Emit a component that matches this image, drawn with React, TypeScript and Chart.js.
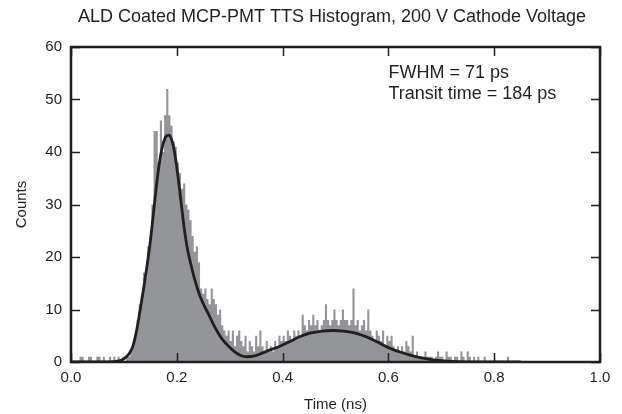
import React, { useEffect, useRef } from "react";
import { Chart, registerables } from "chart.js";

Chart.register(...registerables);

// ---- data ----
const BIN_WIDTH = 0.004; // ns per histogram bin
// histogram counts, bins starting at 0.000 ns (10 bins per row = 0.04 ns)
const histCounts = [
  0, 0, 0, 0, 1, 1, 0, 0, 1, 1, // 0.00-0.04
  0, 0, 1, 1, 0, 1, 0, 0, 1, 0, // 0.04-0.08
  1, 0, 1, 0, 1, 0, 1, 1, 2, 3, // 0.08-0.12
  5, 8, 11, 13, 17, 16, 22, 24, 30, 44, // 0.12-0.16
  44, 38, 46, 40, 47, 52, 47, 45, 42, 41, // 0.16-0.20
  38, 36, 33, 34, 30, 29, 27, 24, 21, 22, // 0.20-0.24
  19, 14, 13, 14, 12, 11, 14, 12, 11, 9, // 0.24-0.28
  10, 7, 6, 5, 6, 4, 6, 3, 5, 6, // 0.28-0.32
  4, 3, 5, 2, 4, 3, 2, 5, 3, 6, // 0.32-0.36
  3, 2, 4, 2, 3, 2, 4, 3, 5, 4, // 0.36-0.40
  5, 4, 6, 5, 4, 6, 5, 6, 5, 9, // 0.40-0.44
  7, 6, 8, 7, 9, 7, 8, 6, 7, 8, // 0.44-0.48
  11, 8, 7, 8, 10, 8, 7, 8, 10, 8, // 0.48-0.52
  8, 7, 8, 14, 7, 8, 6, 7, 8, 6, // 0.52-0.56
  10, 6, 5, 4, 6, 5, 4, 6, 3, 5, // 0.56-0.60
  4, 5, 3, 2, 3, 2, 3, 2, 4, 3, // 0.60-0.64
  2, 5, 1, 2, 1, 1, 1, 2, 1, 1, // 0.64-0.68
  1, 0, 1, 2, 1, 1, 0, 2, 1, 1, // 0.68-0.72
  0, 1, 1, 0, 2, 1, 0, 2, 1, 0, // 0.72-0.76
  1, 0, 1, 0, 0, 1, 0, 0, 0, 0, // 0.76-0.80
  0, 0, 0, 0, 0, 0, 1, 0, 0, 0, // 0.80-0.84
];

// fitted curve
const fitTimes = [
  0.0, 0.06, 0.08, 0.09, 0.1, 0.11, 0.117, 0.125, 0.13, 0.137, 0.143, 0.15, 0.156,
  0.162, 0.168, 0.174, 0.18, 0.185, 0.19, 0.196, 0.202, 0.208, 0.214, 0.22, 0.228,
  0.236, 0.244, 0.252, 0.26, 0.268, 0.276, 0.284, 0.294, 0.304, 0.313, 0.322, 0.332,
  0.345, 0.357, 0.376, 0.395, 0.414, 0.432, 0.452, 0.475, 0.496, 0.515, 0.534, 0.55,
  0.565, 0.585, 0.603, 0.622, 0.641, 0.66, 0.679, 0.7, 0.72, 0.75, 0.8, 0.85,
];
const fitCounts = [
  0, 0, 0.05, 0.2, 0.6, 1.6, 3, 6.5, 9.5, 13.8, 17.8, 23, 28.5,
  34, 38.5, 41.5, 43, 43.2, 42.4, 39.8, 35.5, 30.5, 25.5, 21.6, 18,
  15, 12.5, 10.7, 9.1, 7.4, 5.9, 4.6, 3.4, 2.4, 1.7, 1.2, 1.0,
  1.1, 1.5, 2.3, 3.0, 3.9, 4.8, 5.5, 5.9, 6.0, 5.9, 5.6, 5.1,
  4.5, 3.5, 2.6, 1.9, 1.3, 0.85, 0.5, 0.25, 0.1, 0.03, 0, 0,
];

const xTickValues = [0, 0.2, 0.4, 0.6, 0.8, 1.0];
const yTickValues = [0, 10, 20, 30, 40, 50, 60];

const TITLE = "ALD Coated MCP-PMT TTS Histogram, 200 V Cathode Voltage";
const NOTES = ["FWHM = 71 ps", "Transit time = 184 ps"];
const X_TITLE = "Time (ns)";
const Y_TITLE = "Counts";

const INK = "#231f20";
const FONT = "'Liberation Sans', Arial, Helvetica, sans-serif";

const framePlugin = {
  id: "frameTicks",
  afterDatasetsDraw(chart: any) {
    const { ctx, chartArea: a, scales } = chart;
    const xs = scales.x;
    const ys = scales.y;
    ctx.save();
    ctx.strokeStyle = INK;
    ctx.lineWidth = 1.5;
    const L = 9;
    ctx.beginPath();
    for (const v of xTickValues) {
      const px = Math.round(xs.getPixelForValue(v)) + 0.5;
      ctx.moveTo(px, a.bottom);
      ctx.lineTo(px, a.bottom - L);
      ctx.moveTo(px, a.top);
      ctx.lineTo(px, a.top + L);
    }
    for (const v of yTickValues) {
      const py = Math.round(ys.getPixelForValue(v)) + 0.5;
      ctx.moveTo(a.left, py);
      ctx.lineTo(a.left + L, py);
      ctx.moveTo(a.right, py);
      ctx.lineTo(a.right - L, py);
    }
    ctx.stroke();
    ctx.lineWidth = 2.5;
    ctx.strokeRect(a.left, a.top, a.right - a.left, a.bottom - a.top);
    ctx.restore();
  },
  afterDraw(chart: any) {
    const { ctx, scales } = chart;
    ctx.save();
    ctx.fillStyle = INK;
    ctx.font = `18px ${FONT}`;
    ctx.textAlign = "center";
    ctx.textBaseline = "middle";
    ctx.fillText(TITLE, 332, 17);
    ctx.textAlign = "left";
    const nx = scales.x.getPixelForValue(0.6);
    ctx.fillText(NOTES[0], nx, scales.y.getPixelForValue(55));
    ctx.fillText(NOTES[1], nx, scales.y.getPixelForValue(51));
    ctx.restore();
  },
};

export default function App() {
  const ref = useRef<HTMLCanvasElement | null>(null);
  useEffect(() => {
    if (!ref.current) return;
    const histData = histCounts.map((c, i) => ({ x: (i + 0.5) * BIN_WIDTH, y: c }));
    const fitData = fitTimes.map((t, i) => ({ x: t, y: fitCounts[i] }));
    const chart = new Chart(ref.current, {
      type: "line",
      data: {
        datasets: [
          {
            label: "fit",
            data: fitData,
            borderColor: INK,
            borderWidth: 2.8,
            pointRadius: 0,
            cubicInterpolationMode: "monotone",
            fill: false,
            order: 1,
          },
          {
            label: "histogram",
            data: histData,
            stepped: "middle",
            borderWidth: 0,
            borderColor: "rgba(0,0,0,0)",
            backgroundColor: "#939598",
            pointRadius: 0,
            fill: "origin",
            order: 2,
          },
        ],
      },
      options: {
        animation: false,
        responsive: false,
        devicePixelRatio: 1,
        layout: { padding: { top: 47, right: 22, left: 0, bottom: 0 } },
        plugins: { legend: { display: false }, tooltip: { enabled: false }, title: { display: false } },
        scales: {
          x: {
            type: "linear",
            min: 0,
            max: 1,
            grid: { display: false, drawTicks: false },
            border: { display: false },
            afterBuildTicks: (s: any) => {
              s.ticks = xTickValues.map((v) => ({ value: v }));
            },
            afterFit: (s: any) => {
              s.height = 52;
            },
            ticks: {
              padding: 7,
              color: INK,
              font: { family: FONT, size: 15 },
              callback: (v: any) => Number(v).toFixed(1),
              maxRotation: 0,
            },
            title: {
              display: true,
              text: X_TITLE,
              color: INK,
              font: { family: FONT, size: 15 },
              padding: { top: 0, bottom: 0 },
            },
          },
          y: {
            type: "linear",
            min: 0,
            max: 60,
            grid: { display: false, drawTicks: false },
            border: { display: false },
            afterBuildTicks: (s: any) => {
              s.ticks = yTickValues.map((v) => ({ value: v }));
            },
            afterFit: (s: any) => {
              s.width = 71;
            },
            ticks: {
              padding: 9,
              color: INK,
              font: { family: FONT, size: 15 },
            },
            title: {
              display: true,
              text: Y_TITLE,
              color: INK,
              font: { family: FONT, size: 15 },
              padding: { top: 13, bottom: 0 },
            },
          },
        },
      },
      plugins: [framePlugin],
    } as any);
    return () => chart.destroy();
  }, []);
  return (
    <div style={{ position: "fixed", left: 0, top: 0, width: 622, height: 414, background: "#fff" }}>
      <canvas ref={ref} width={622} height={414} style={{ display: "block" }} />
    </div>
  );
}
